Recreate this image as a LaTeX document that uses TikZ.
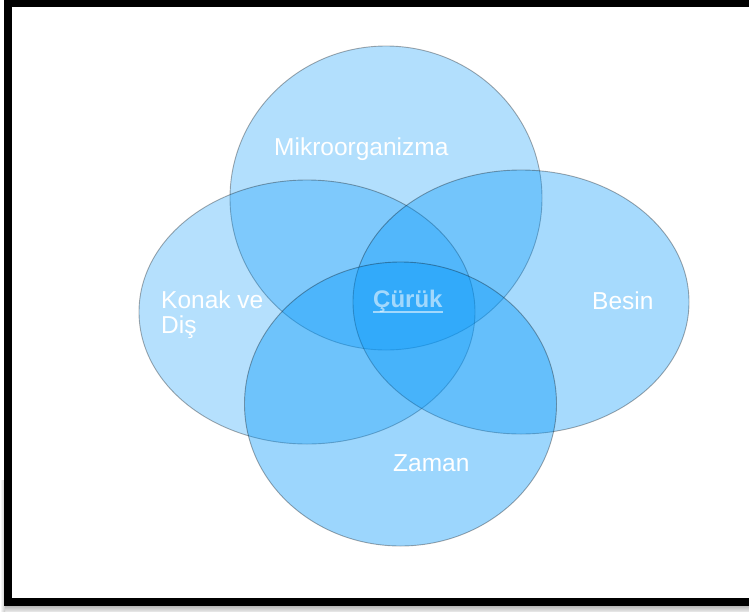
\documentclass[tikz,border=0pt]{standalone}
\usepackage{fontspec}
\setmainfont{Liberation Sans}
\definecolor{vennblue}{RGB}{0,150,250}
\tikzset{
  venn/.style={fill=vennblue, fill opacity=#1, draw=black, draw opacity=0.32, line width=0.9pt},
  lbl/.style={text=white, inner sep=0pt, font=\fontsize{24.5}{25}\selectfont},
}
\begin{document}
\begin{tikzpicture}[x=1pt,y=-1pt]
\useasboundingbox (0,0) rectangle (749,611);
\clip (0,0) rectangle (749,611);
% frame with shadow
\shade[top color=gray!70, bottom color=gray!20] (0,604) rectangle (749,611);
\shade[left color=white, right color=gray!45] (0,480) rectangle (5,611);
\fill[black] (4,-10) rectangle (770,606);
\fill[white] (12,7) rectangle (770,598);
% ellipses
\path[venn=0.30] (386,198) ellipse [x radius=156pt, y radius=152pt];
\path[venn=0.29] (307,312) ellipse [x radius=168pt, y radius=132pt];
\path[venn=0.35] (521,302) ellipse [x radius=168pt, y radius=132pt];
\path[venn=0.39] (400.5,404) ellipse [x radius=156pt, y radius=142pt];
% labels
\node[lbl, anchor=base west] (mikro) at (274,155) {Mikroorganizma};
\node[lbl, anchor=base west] (konak) at (161,308) {\vtop{\baselineskip=25pt\hbox{Konak ve}\hbox{Diş}}};
\node[lbl, anchor=base west] (besin) at (592,309) {Besin};
\node[lbl, anchor=base west] (zaman) at (393,471) {Zaman};
\node[lbl, anchor=base west, text opacity=0.55, font=\fontsize{24}{25}\selectfont\bfseries] (curuk) at (373,307) {Çürük};
\draw[white, opacity=0.55, line width=1.3pt] ([yshift=-5pt]curuk.base west) -- ([yshift=-5pt]curuk.base east);
\end{tikzpicture}
\end{document}
